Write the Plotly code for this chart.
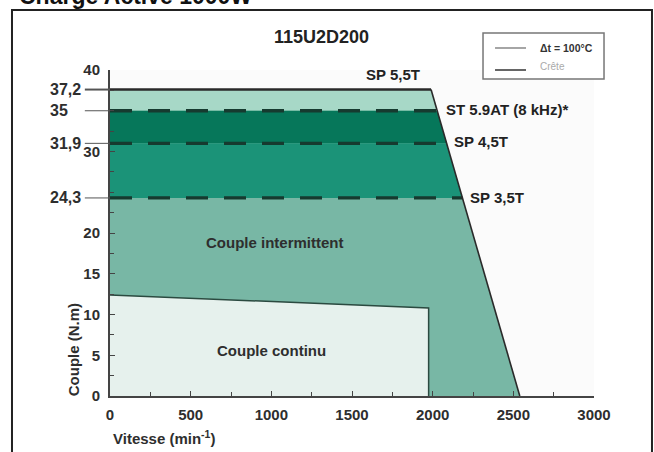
import plotly.graph_objects as go
import numpy as np

# ---- data ----
env_speed = [0, 1990, 2540]          # intermittent envelope (min^-1)
env_torque = [37.6, 37.6, 0]         # N.m (as drawn)
cont_speed = [0, 1975]               # continuous torque limit
cont_torque = [12.4, 10.8]
level_values = [37.6, 35.0, 31.0, 24.3]          # as drawn
level_labels = ["37,2", "35", "31,9", "24,3"]
drive_labels = ["SP 5,5T", "ST 5.9AT (8 kHz)*", "SP 4,5T", "SP 3,5T"]
ytick_vals = [0, 5, 10, 15, 20, 30, 40]
xtick_vals = [0, 500, 1000, 1500, 2000, 2500, 3000]

FONT = "Liberation Sans, Arial, sans-serif"
TXT = "#2e2e2e"

def env_x(t):
    return float(np.interp(-t, [-env_torque[1], -env_torque[2]], [env_speed[1], env_speed[2]]))

fig = go.Figure()

# intermittent area
fig.add_trace(go.Scatter(x=[0] + env_speed + [0], y=[0] + env_torque + [0],
                         fill="toself", fillcolor="#78b7a5", line=dict(width=0),
                         mode="lines", hoverinfo="skip"))

band_colors = ["#a7d8c7", "#06775a", "#1b9378"]
for i in range(3):
    top, bot = level_values[i], level_values[i + 1]
    xs = [0, 0, env_x(top), env_x(bot), 0]
    ys = [bot, top, top, bot, bot]
    fig.add_trace(go.Scatter(x=xs, y=ys, fill="toself", fillcolor=band_colors[i],
                             line=dict(width=0), mode="lines", hoverinfo="skip"))

# continuous area
fig.add_trace(go.Scatter(x=[0, 0, cont_speed[1], cont_speed[1], 0],
                         y=[0, cont_torque[0], cont_torque[1], 0, 0],
                         fill="toself", fillcolor="#e6f1ed", line=dict(width=0),
                         mode="lines", hoverinfo="skip"))
fig.add_trace(go.Scatter(x=[0, cont_speed[1], cont_speed[1]],
                         y=[cont_torque[0], cont_torque[1], 0],
                         mode="lines", line=dict(color="#2b4a40", width=1.5), hoverinfo="skip"))

# dashed levels
for lv in level_values[1:]:
    fig.add_trace(go.Scatter(x=[0, env_x(lv)], y=[lv, lv], mode="lines",
                             line=dict(color="#163a2f", width=3.3, dash="22px,16px"),
                             hoverinfo="skip"))

# envelope line
fig.add_trace(go.Scatter(x=env_speed[:2], y=env_torque[:2], mode="lines",
                         line=dict(color="#2a2a2a", width=2.5), hoverinfo="skip"))
fig.add_trace(go.Scatter(x=env_speed[1:], y=env_torque[1:], mode="lines",
                         line=dict(color="#2a2a2a", width=1.6), hoverinfo="skip"))

ann = []
# level labels on left
for v, lab in zip(level_values, level_labels):
    ann.append(dict(x=-0.128, xref="paper", y=v, yref="y", text="<b>" + lab + "</b>",
                    showarrow=False, xanchor="left", yanchor="middle",
                    font=dict(family=FONT, size=16, color=TXT)))
    fig.add_shape(type="line", xref="paper", yref="y", x0=-0.052, x1=0, y0=v, y1=v,
                  line=dict(color="#555555", width=2 if v == level_values[0] else 1))

# drive labels
offs = [(-55, 1.8, "right"), (45, 0.2, "left"), (35, 0.2, "left"), (35, 0.1, "left")]
for v, lab, (dx, dy, xa) in zip(level_values, drive_labels, offs):
    xv = env_speed[1] if v == level_values[0] else env_x(v)
    ann.append(dict(x=xv + dx, y=v + dy, text="<b>" + lab + "</b>", showarrow=False,
                    xanchor=xa, yanchor="middle", font=dict(family=FONT, size=15, color="#222")))

ann.append(dict(x=1022, y=18.8, text="<b>Couple intermittent</b>", showarrow=False,
                font=dict(family=FONT, size=15, color=TXT)))
ann.append(dict(x=1003, y=5.6, text="<b>Couple continu</b>", showarrow=False,
                font=dict(family=FONT, size=15, color=TXT)))
ann.append(dict(x=0.438, xref="paper", y=1.101, yref="paper", text="<b>115U2D200</b>",
                showarrow=False, xanchor="center", yanchor="middle",
                font=dict(family=FONT, size=18, color="#222")))
ann.append(dict(x=0.002, xref="paper", y=-0.126, yref="paper", text="<b>Vitesse (min<sup>-1</sup>)</b>",
                showarrow=False, xanchor="left", yanchor="middle",
                font=dict(family=FONT, size=15, color=TXT)))
ann.append(dict(x=-0.076, xref="paper", y=0.141, yref="paper", text="<b>Couple (N.m)</b>",
                showarrow=False, textangle=-90, xanchor="center", yanchor="middle",
                font=dict(family=FONT, size=15, color=TXT)))
# header cut at top of the picture
ann.append(dict(x=-0.192, xref="paper", y=1.228, yref="paper", text="<b>Charge Active 1000W</b>",
                showarrow=False, xanchor="left", yanchor="middle",
                font=dict(family=FONT, size=23, color="#111")))

# legend box
fig.add_shape(type="rect", xref="paper", yref="paper", x0=0.7707, x1=1.0207, y0=0.9724, y1=1.1135,
              line=dict(color="#777", width=1.5), fillcolor="white")
fig.add_shape(type="line", xref="paper", yref="paper", x0=0.7955, x1=0.8595, y0=1.0675, y1=1.0675,
              line=dict(color="#888", width=1.5))
fig.add_shape(type="line", xref="paper", yref="paper", x0=0.7955, x1=0.8595, y0=1.0, y1=1.0,
              line=dict(color="#333", width=1.5))
ann.append(dict(x=0.8843, xref="paper", y=1.0675, yref="paper", text="<b>Δt = 100°C</b>",
                showarrow=False, xanchor="left", yanchor="middle",
                font=dict(family=FONT, size=10.5, color="#333")))
ann.append(dict(x=0.8843, xref="paper", y=1.012, yref="paper", text="Crête",
                showarrow=False, xanchor="left", yanchor="middle",
                font=dict(family=FONT, size=10, color="#aaa")))

# outer frame
fig.add_shape(type="rect", xref="paper", yref="paper", x0=-0.2025, x1=1.1198, y0=-0.3, y1=1.184,
              line=dict(color="#222", width=2), layer="below")

fig.update_layout(
    width=654, height=452, margin=dict(l=110, r=60, t=70, b=56),
    paper_bgcolor="white", plot_bgcolor="#fbfbfb", showlegend=False,
    annotations=ann,
    xaxis=dict(range=[0, 3000], tickvals=xtick_vals, ticks="inside", ticklen=5,
               tickcolor="#444", showline=True, linecolor="#444", linewidth=2,
               showgrid=False, zeroline=False, ticklabelstandoff=4,
               minor=dict(dtick=250, ticks="inside", ticklen=4, tickcolor="#444"),
               tickfont=dict(family=FONT, size=15, color=TXT, weight="bold")),
    yaxis=dict(range=[0, 40], tickvals=ytick_vals, ticks="inside", ticklen=5,
               tickcolor="#444", showline=True, linecolor="#444", linewidth=2,
               showgrid=False, zeroline=False, ticklabelstandoff=5,
               minor=dict(dtick=2.5, ticks="inside", ticklen=4, tickcolor="#444"),
               tickfont=dict(family=FONT, size=15, color=TXT, weight="bold")),
)
fig.write_html("out.html", config={"displayModeBar": False},
               post_script="document.body.style.margin='0px';")
